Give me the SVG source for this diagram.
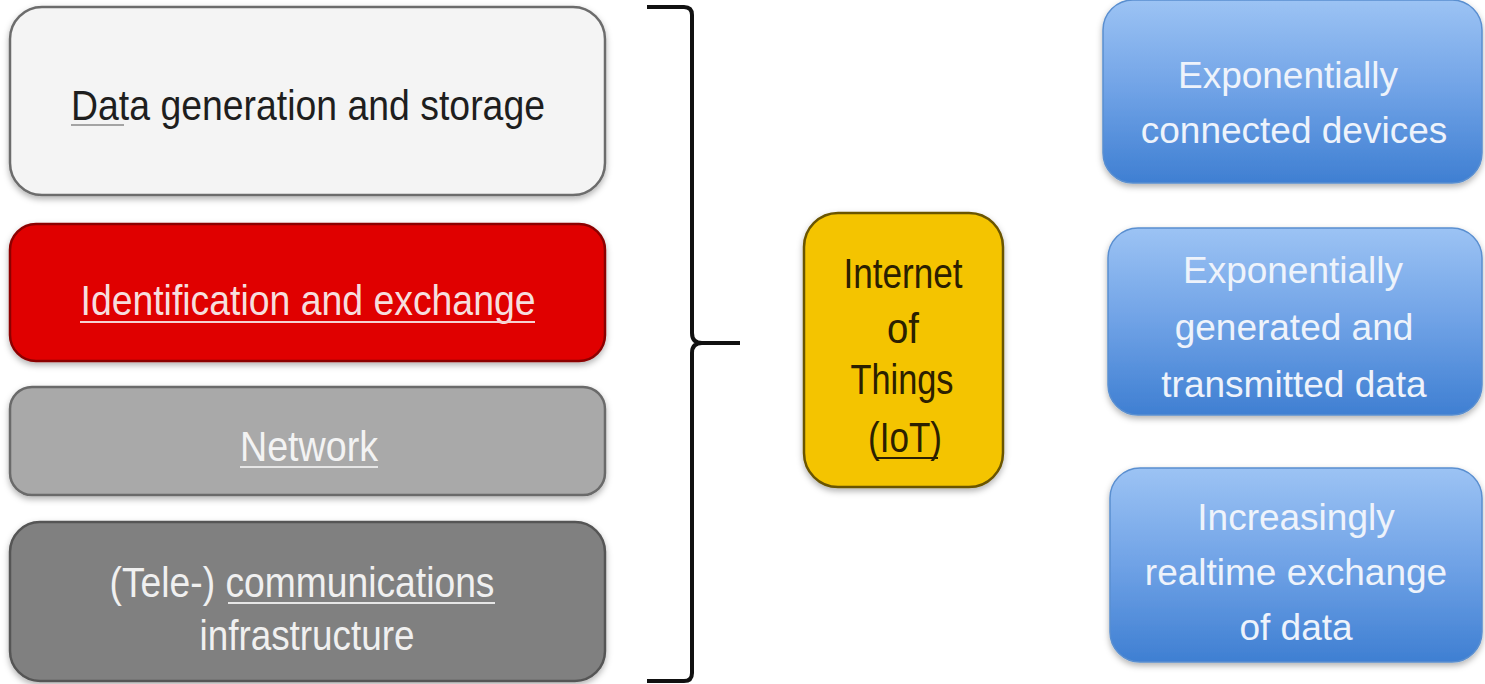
<svg xmlns="http://www.w3.org/2000/svg" width="1485" height="684" viewBox="0 0 1485 684">
  <defs>
    <linearGradient id="blueFill" x1="0" y1="0" x2="0" y2="1">
      <stop offset="0" stop-color="#9cc3f4"/>
      <stop offset="0.5" stop-color="#6fa2e6"/>
      <stop offset="1" stop-color="#3f7fd2"/>
    </linearGradient>
    <filter id="shadow" x="-5%" y="-5%" width="110%" height="115%">
      <feDropShadow dx="0" dy="3" stdDeviation="3" flood-color="#000" flood-opacity="0.3"/>
    </filter>
    <style>
      .layer { stroke-width: 2.5; filter: url(#shadow); }
      .lbl { font-family: "Liberation Sans", Arial, sans-serif; font-size: 43px; text-anchor: middle; }
      .iot { font-family: "Liberation Sans", Arial, sans-serif; font-size: 42px; text-anchor: middle; fill: #2b2000; }
      .blue { font-family: "Liberation Sans", Arial, sans-serif; font-size: 37px; text-anchor: middle; fill: #eef3fb; }
      .ul { stroke-width: 2; }
      .bbox { fill: url(#blueFill); stroke: #5a8fd0; stroke-width: 1.5; filter: url(#shadow); }
    </style>
  </defs>
  <rect width="1485" height="684" fill="#ffffff"/>

  <!-- layer stack -->
  <g id="data-generation">
    <rect class="layer" x="10" y="7" width="595" height="188" rx="32" fill="#f4f4f4" stroke="#6c6c6c"/>
    <text class="lbl" x="308" y="120" fill="#1e1e1e" textLength="474" lengthAdjust="spacingAndGlyphs">Data generation and storage</text>
    <line x1="71" y1="125" x2="124" y2="125" stroke="#8a8a8a" stroke-width="1.5"/>
  </g>

  <g id="identification">
    <rect class="layer" x="10" y="224" width="595" height="137" rx="26" fill="#e00000" stroke="#8c0000"/>
    <text class="lbl" x="308" y="315" fill="#f6dede" textLength="455" lengthAdjust="spacingAndGlyphs">Identification and exchange</text>
    <line class="ul" x1="80" y1="322" x2="535" y2="322" stroke="#f6d2d2"/>
  </g>

  <g id="network">
    <rect class="layer" x="10" y="387" width="595" height="108" rx="22" fill="#a9a9a9" stroke="#6a6a6a"/>
    <text class="lbl" x="309" y="461" fill="#f3f3f3" textLength="138" lengthAdjust="spacingAndGlyphs">Network</text>
    <line class="ul" x1="240" y1="467" x2="378" y2="467" stroke="#e6e6e6"/>
  </g>

  <g id="telecom">
    <rect class="layer" x="10" y="522" width="595" height="159" rx="30" fill="#808080" stroke="#555555"/>
    <text class="lbl" x="302" y="597" fill="#f0f0f0" textLength="385" lengthAdjust="spacingAndGlyphs">(Tele-) communications</text>
    <line class="ul" x1="228" y1="603" x2="495" y2="603" stroke="#e6e6e6"/>
    <text class="lbl" x="307" y="650" fill="#f0f0f0" textLength="215" lengthAdjust="spacingAndGlyphs">infrastructure</text>
  </g>

  <!-- brace gathering the layers -->
  <g id="connectors">
    <path d="M647,7 H684 Q692,7 692,15 V333 Q692,343 702,343 H740 M702,343 Q692,343 692,353 V673 Q692,681 684,681 H647" fill="none" stroke="#111" stroke-width="4" stroke-linejoin="round"/>
  </g>

  <g id="iot">
    <rect class="layer" x="804" y="213" width="199" height="274" rx="34" fill="#f4c400" stroke="#6a5400"/>
    <text class="iot" x="903" y="288" textLength="119" lengthAdjust="spacingAndGlyphs">Internet</text>
    <text class="iot" x="903" y="343" textLength="32" lengthAdjust="spacingAndGlyphs">of</text>
    <text class="iot" x="902" y="394" textLength="103" lengthAdjust="spacingAndGlyphs">Things</text>
    <text class="iot" x="905" y="452" textLength="74" lengthAdjust="spacingAndGlyphs">(IoT)</text>
    <line x1="877" y1="458" x2="938" y2="458" stroke="#2b2000" stroke-width="2"/>
  </g>

  <!-- outcomes -->
  <g id="connected-devices">
    <rect class="bbox" x="1103" y="0" width="379" height="183" rx="30"/>
    <text class="blue" x="1288" y="88">Exponentially</text>
    <text class="blue" x="1294" y="143">connected devices</text>
  </g>

  <g id="generated-data">
    <rect class="bbox" x="1108" y="228" width="374" height="187" rx="30"/>
    <text class="blue" x="1293" y="283">Exponentially</text>
    <text class="blue" x="1294" y="340">generated and</text>
    <text class="blue" x="1294" y="397">transmitted data</text>
  </g>

  <g id="realtime-exchange">
    <rect class="bbox" x="1110" y="468" width="372" height="194" rx="30"/>
    <text class="blue" x="1296" y="530">Increasingly</text>
    <text class="blue" x="1296" y="585">realtime exchange</text>
    <text class="blue" x="1296" y="640">of data</text>
  </g>
</svg>
